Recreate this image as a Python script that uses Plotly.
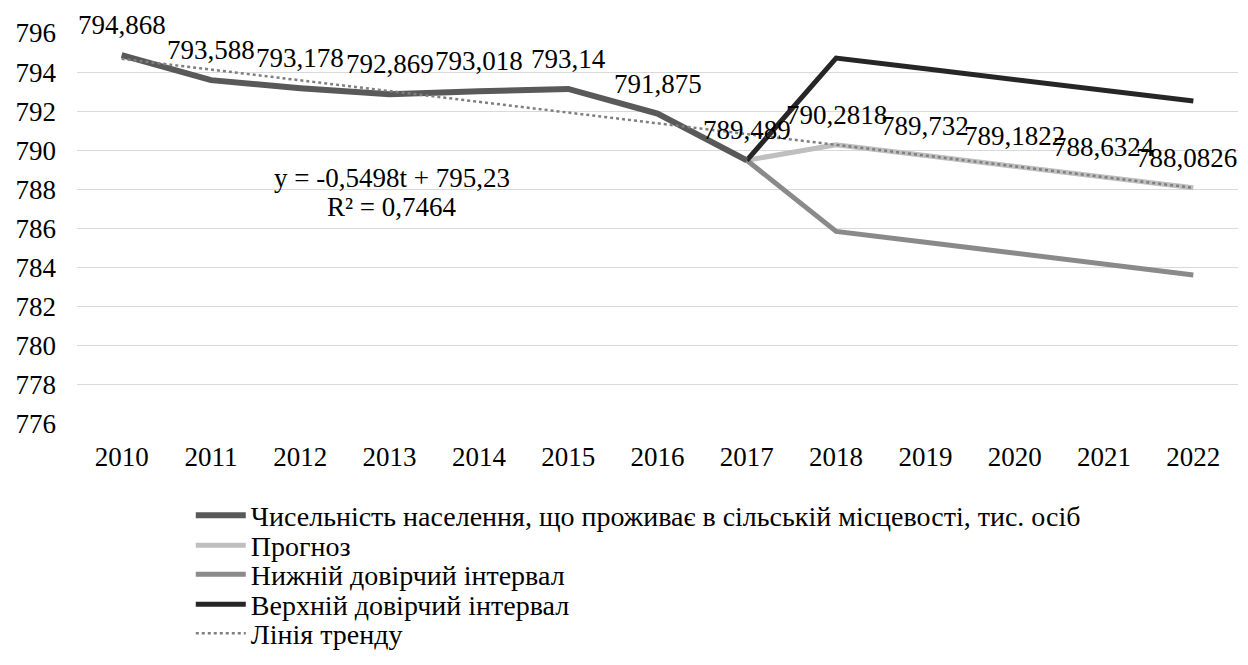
import plotly.graph_objects as go

years = ["2010", "2011", "2012", "2013", "2014", "2015", "2016", "2017",
         "2018", "2019", "2020", "2021", "2022"]

pop_years = years[:8]
pop_values = [794.868, 793.588, 793.178, 792.869, 793.018, 793.14, 791.875, 789.489]
pop_labels = ["794,868", "793,588", "793,178", "792,869", "793,018", "793,14", "791,875", "789,489"]

fc_years = years[7:]
fc_values = [789.489, 790.2818, 789.732, 789.1822, 788.6324, 788.0826]
fc_labels = ["790,2818", "789,732", "789,1822", "788,6324", "788,0826"]

lower_values = [789.489, 785.85, 785.30, 784.75, 784.20, 783.62]
upper_values = [789.489, 794.72, 794.17, 793.62, 793.07, 792.52]

trend_values = [794.68, 794.13, 793.58, 793.03, 792.48, 791.93, 791.38,
                790.83, 790.28, 789.73, 789.18, 788.63, 788.08]

y_ticks = list(range(776, 798, 2))

names = ["Чисельність населення, що проживає в сільській місцевості, тис. осіб",
         "Прогноз", "Нижній довірчий інтервал", "Верхній довірчий інтервал", "Лінія тренду"]
eq_line1 = "y = -0,5498t + 795,23"
eq_line2 = "R² = 0,7464"

FONT = "Liberation Serif"
FS = 27

fig = go.Figure()
fig.add_trace(go.Scatter(x=fc_years, y=fc_values, mode="lines", name=names[1],
                         line=dict(color="#BFBFBF", width=5), legend="legend2"))
fig.add_trace(go.Scatter(x=fc_years, y=lower_values, mode="lines", name=names[2],
                         line=dict(color="#8A8A8A", width=5), legend="legend3"))
fig.add_trace(go.Scatter(x=fc_years, y=upper_values, mode="lines", name=names[3],
                         line=dict(color="#262626", width=5), legend="legend4"))
fig.add_trace(go.Scatter(x=pop_years, y=pop_values, mode="lines", name=names[0],
                         line=dict(color="#595959", width=6), legend="legend"))
fig.add_trace(go.Scatter(x=years, y=trend_values, mode="lines", name=names[4],
                         line=dict(color="#7F7F7F", width=2.5, dash="dot"), legend="legend5"))

annotations = []
for x, y, t in zip(pop_years, pop_values, pop_labels):
    annotations.append(dict(x=years.index(x), y=y, text=t, showarrow=False, yshift=30,
                            xanchor="center", yanchor="middle",
                            font=dict(family=FONT, size=FS, color="black")))
fc_label_xshift = [0, 0, 0, 0, -7]
for x, y, t, dx in zip(fc_years[1:], fc_values[1:], fc_labels, fc_label_xshift):
    annotations.append(dict(x=years.index(x), y=y, text=t, showarrow=False, yshift=30,
                            xshift=dx, xanchor="center", yanchor="middle",
                            font=dict(family=FONT, size=FS, color="black")))
annotations.append(dict(xref="paper", yref="paper", x=0.271, y=0.629, text=eq_line1,
                        xanchor="center", yanchor="middle", showarrow=False,
                        font=dict(family=FONT, size=FS, color="black")))
annotations.append(dict(xref="paper", yref="paper", x=0.271, y=0.554, text=eq_line2,
                        xanchor="center", yanchor="middle", showarrow=False,
                        font=dict(family=FONT, size=FS, color="black")))

legend_rows_y = [-0.2340, -0.3107, -0.3849, -0.4616, -0.5358]
legend_keys = ["legend", "legend2", "legend3", "legend4", "legend5"]
legend_layout = {}
for key, ly in zip(legend_keys, legend_rows_y):
    legend_layout[key] = dict(x=0.098, y=ly, xanchor="left", yanchor="middle",
                              font=dict(family=FONT, size=28, color="black"),
                              bgcolor="rgba(0,0,0,0)", itemwidth=50)

# the page body adds an 8px offset; figure width and margins compensate for it
fig.update_layout(
    width=1240, height=665,
    margin=dict(l=69, r=10, t=25, b=249),
    paper_bgcolor="white", plot_bgcolor="white",
    font=dict(family=FONT, size=FS, color="black"),
    showlegend=True,
    annotations=annotations,
    xaxis=dict(type="category", categoryorder="array", categoryarray=years,
               range=[-0.5, 12.5], showgrid=False, showline=False, ticks="",
               automargin=False,
               ticklabelstandoff=14, tickfont=dict(family=FONT, size=FS, color="black")),
    yaxis=dict(range=[776, 796], tickvals=y_ticks, showgrid=True, gridcolor="#D9D9D9",
               gridwidth=1, zeroline=False, showline=False, ticks="",
               automargin=False,
               ticklabelstandoff=20, tickfont=dict(family=FONT, size=FS, color="black")),
    **legend_layout,
)

fig.write_html("out.html")
